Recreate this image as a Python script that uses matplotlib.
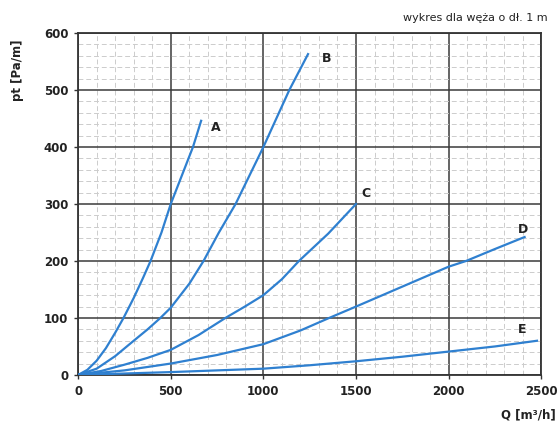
import matplotlib.pyplot as plt
from matplotlib.ticker import MultipleLocator

# curve readings (Q [m3/h], pt [Pa/m])
qA = [0, 50, 100, 150, 200, 245, 300, 350, 391, 450, 500, 560, 620, 664]
pA = [0, 9, 25, 47, 74, 100, 135, 170, 200, 250, 300, 350, 400, 446]
qB = [0, 100, 200, 300, 375, 444, 500, 600, 677, 760, 850, 925, 1000, 1070, 1140, 1241]
pB = [0, 11, 33, 60, 80, 100, 118, 160, 200, 250, 300, 350, 400, 450, 500, 563]
qC = [0, 125, 250, 375, 500, 650, 795, 900, 1000, 1100, 1192, 1350, 1500]
pC = [0, 7, 18, 30, 44, 70, 100, 120, 140, 168, 200, 248, 300]
qD = [0, 250, 500, 750, 1000, 1200, 1355, 1500, 1750, 2000, 2094, 2250, 2410]
pD = [0, 8, 20, 35, 54, 78, 100, 120, 155, 190, 200, 221, 242]
qE = [0, 500, 1000, 1250, 1500, 1750, 2000, 2250, 2477]
pE = [0, 5, 11, 17, 24, 32, 41, 50, 60]

names = ['A', 'B', 'C', 'D', 'E']
label_pos = [(741, 435), (1342, 556), (1553, 319), (2402, 256), (2397, 79)]

fig = plt.figure(figsize=(5.58, 4.29), dpi=100)
ax = fig.add_axes([0.140, 0.126, 0.830, 0.797])

blue = '#2f80d0'
for q, p in [(qA, pA), (qB, pB), (qC, pC), (qD, pD), (qE, pE)]:
    ax.plot(q, p, color=blue, lw=1.6, zorder=3, solid_joinstyle='round')

for n, (x, y) in zip(names, label_pos):
    ax.text(x, y, n, fontsize=9, fontweight='bold', ha='center', va='center', color='#222222')

ax.set_xlim(0, 2500)
ax.set_ylim(0, 600)
ax.xaxis.set_major_locator(MultipleLocator(500))
ax.yaxis.set_major_locator(MultipleLocator(100))
ax.xaxis.set_minor_locator(MultipleLocator(100))
ax.yaxis.set_minor_locator(MultipleLocator(20))
ax.grid(which='major', color='#3a3a3a', lw=1.1, zorder=1)
ax.grid(which='minor', color='#cccccc', lw=0.7, ls=(0, (5, 3)), zorder=0)
ax.tick_params(which='minor', length=0)
ax.tick_params(which='major', length=3, width=1, color='#333333', labelsize=8.5, pad=4)
for lab in ax.get_xticklabels() + ax.get_yticklabels():
    lab.set_fontweight('bold')
    lab.set_color('#222222')
for s in ax.spines.values():
    s.set_color('#333333')
    s.set_linewidth(1.3)

fig.text(548 / 558, 1 - 18 / 429, 'wykres dla węża o dł. 1 m', fontsize=8, ha='right', va='center', color='#222222')
fig.text(18 / 558, 1 - 70 / 429, 'pt [Pa/m]', fontsize=8.5, fontweight='bold', rotation=90, ha='center', va='center', color='#222222')
fig.text(528 / 558, 1 - 415 / 429, 'Q [m³/h]', fontsize=8.5, fontweight='bold', ha='center', va='center', color='#222222')

fig.savefig('out.png', dpi=100)
